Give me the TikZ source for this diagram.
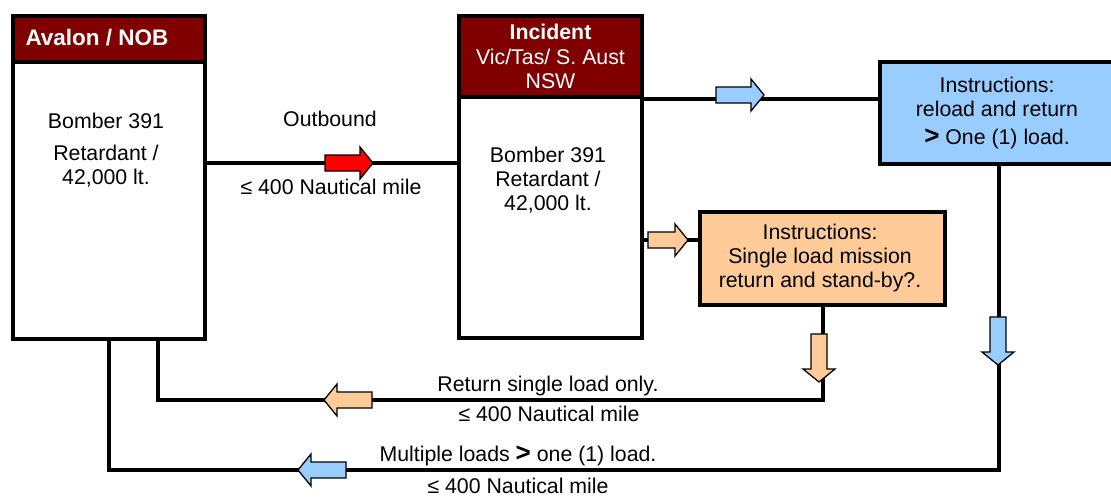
\documentclass[tikz,border=0pt]{standalone}
\usepackage{fontspec}
\setmainfont{Liberation Sans}
\usetikzlibrary{calc}
\definecolor{hdrred}{HTML}{800000}
\definecolor{skyfill}{HTML}{99CCFF}
\definecolor{peach}{HTML}{FFCC99}
\definecolor{flagred}{HTML}{FF0000}
\newcommand\bigger{\textbf{\fontsize{26}{26}\selectfont >}}
\tikzset{
  box/.style={draw=black, line width=4pt, anchor=north west, inner sep=0pt},
  hdrbox/.style={box, fill=hdrred, text=white, align=center},
  txt/.style={inner sep=0pt, align=center, font=\fontsize{21.3}{24}\selectfont},
  wire/.style={draw=black, line width=4pt},
  blockarrow/.pic={
    \path[draw=black, line width=1.3pt, line join=miter, pic actions]
      (-#1,-8) -- (#1-13,-8) -- (#1-13,-16) -- (#1,0) -- (#1-13,16)
      -- (#1-13,8) -- (-#1,8) -- cycle;
  }
}
\begin{document}
\begin{tikzpicture}[x=1pt, y=-1pt]
\useasboundingbox (0,0) rectangle (1111,498);

% --- Avalon / NOB column
\node[hdrbox, minimum width=192pt, minimum height=46pt] (ahead) at (11,14) {};
\node[txt, text=white, font=\bfseries\fontsize{22.5}{24}\selectfont] (ahtext) at (97,38) {Avalon / NOB};
\node[box, minimum width=192pt, minimum height=277pt] (abody) at (11,60) {};
\node[txt] (atext) at (106,150) {Bomber 391\\[8pt]Retardant /\\42,000 lt.};

% --- Incident column
\node[hdrbox, minimum width=183pt, minimum height=81pt,
      font=\fontsize{21.3}{24.5}\selectfont] (ihead) at (457,14)
  {{\bfseries Incident}\\Vic/Tas/ S. Aust\\NSW};
\node[box, minimum width=183pt, minimum height=241pt] (ibody) at (457,95) {};
\node[txt] (itext) at (548,180) {Bomber 391\\Retardant /\\42,000 lt.};

% --- instruction boxes
\node[box, fill=skyfill, minimum width=237pt, minimum height=102pt] (blue) at (878,60) {};
\node[txt] (btext) at (997,113) {Instructions:\\reload and return\\[4pt]\bigger{} One (1) load.};
\node[box, fill=peach, minimum width=245pt, minimum height=93pt] (orange) at (698,210) {};
\node[txt] (otext) at (820,258) {Instructions:\\Single load mission\\return and stand-by?.};

% --- connectors
\coordinate (outY) at (0,163);
\coordinate (orY) at (0,240);
\coordinate (retY) at (0,400);
\coordinate (multY) at (0,470);
\coordinate (retX) at ($(abody.south west)!0.75!(abody.south east)$);

\path[wire] (outY -| abody.east) -- (outY -| ibody.west);
\path[wire] (ihead.south east) -- (ihead.south east -| blue.west);
\path[wire] (orY -| ibody.east) -- (orY -| orange.west);
\path[wire] (orange.south) |- (retX |- retY) -- (retX);
\path[wire] (blue.south) |- (abody.south |- multY) -- (abody.south);

% --- direction markers
\pic[fill=flagred] at (349,163) {blockarrow=24};
\pic[fill=skyfill] at (740,95) {blockarrow=24};
\pic[fill=peach] at (668,240) {blockarrow=20};
\pic[fill=peach, rotate=-90] at (819,358) {blockarrow=24};
\pic[fill=skyfill, rotate=-90] at (998,341) {blockarrow=24};
\pic[fill=peach, rotate=180] at (348,400) {blockarrow=24};
\pic[fill=skyfill, rotate=180] at (322,470) {blockarrow=24};

% --- connector labels
\node[txt] (outlbl) at (330,119) {Outbound};
\node[txt] (outdist) at (331,187) {≤ 400 Nautical mile};
\node[txt] (retlbl) at (548,386) {Return single load only.};
\node[txt] (retdist) at (549,414) {≤ 400 Nautical mile};
\node[txt] (multlbl) at (518,456) {Multiple loads \bigger{} one (1) load.};
\node[txt] (multdist) at (518,486) {≤ 400 Nautical mile};
\end{tikzpicture}
\end{document}
